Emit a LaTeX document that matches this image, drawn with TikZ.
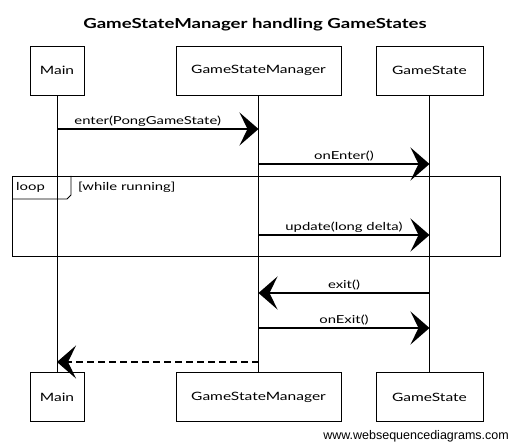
\documentclass[tikz,border=0pt]{standalone}
\usepackage{fontspec}
\setmainfont{Lato}
\newfontfamily\hand[FakeStretch=1.35]{Lato}
\newfontfamily\wsd{Liberation Sans}
\usetikzlibrary{arrows.meta}
\tikzset{
  actor/.style={draw, line width=0.8pt, minimum height=49pt, inner sep=0pt, font=\hand\fontsize{11.5}{13}\selectfont},
  life/.style={line width=0.8pt},
  tipbig/.tip={Stealth[length=19pt,width=33pt,inset=8pt]},
  msg/.style={line width=1.3pt, -tipbig},
  ret/.style={line width=1.1pt, -tipbig, dash pattern=on 7pt off 4pt},
  lbl/.style={font=\hand\fontsize{11}{13}\selectfont, inner sep=2pt},
  frame/.style={line width=0.8pt},
}
\begin{document}
\begin{tikzpicture}[x=1pt,y=-1pt]
\useasboundingbox (0,0) rectangle (510,443);
\fill[white] (0,0) rectangle (510,443);
% title
\node[font=\hand\bfseries\fontsize{13.8}{15}\selectfont] (title) at (255,25) {GameStateManager handling GameStates};
% actors
\node[actor, minimum width=54pt] (mainT) at (57,70.5) {Main};
\node[actor, minimum width=165pt] (gsmT) at (258.5,70.5) {GameStateManager};
\node[actor, minimum width=107pt] (gsT) at (429.5,70.5) {GameState};
\node[actor, minimum width=54pt] (mainB) at (57,397) {Main};
\node[actor, minimum width=165pt] (gsmB) at (258.5,397) {GameStateManager};
\node[actor, minimum width=107pt] (gsB) at (429.5,397) {GameState};
% lifelines
\draw[life] (mainT.south) -- (mainB.north);
\draw[life] (gsmT.south) -- (gsmB.north);
\draw[life] (gsT.south) -- (gsB.north);
% loop frame
\draw[frame] (12,176) rectangle (500,256);
\draw[frame] (12,199) -- (67,199) -- (71,195) -- (71,176);
\node[lbl, anchor=west] (looplbl) at (14,187) {loop};
\node[lbl, anchor=west] (cond) at (76,187) {[while running]};
% message points
\coordinate (m1a) at (57,129);   \coordinate (m1b) at (258.5,129);
\coordinate (m2a) at (258.5,164); \coordinate (m2b) at (429.5,164);
\coordinate (m3a) at (258.5,235); \coordinate (m3b) at (429.5,235);
\coordinate (m4a) at (429.5,293); \coordinate (m4b) at (258.5,293);
\coordinate (m5a) at (258.5,328); \coordinate (m5b) at (429.5,328);
\coordinate (m6a) at (258.5,362); \coordinate (m6b) at (57,362);
% messages
\draw[msg] (m1a) -- node[lbl, above, pos=0.45] {enter(PongGameState)} (m1b);
\draw[msg] (m2a) -- node[lbl, above] {onEnter()} (m2b);
\draw[msg] (m3a) -- node[lbl, above] {update(long delta)} (m3b);
\draw[msg] (m4a) -- node[lbl, above] {exit()} (m4b);
\draw[msg] (m5a) -- node[lbl, above] {onExit()} (m5b);
\draw[ret] (m6a) -- (m6b);
% watermark
\node[font=\wsd\fontsize{12.5}{14}\selectfont, anchor=east, inner sep=0pt] (wm) at (509,436) {www.websequencediagrams.com};
\end{tikzpicture}
\end{document}
